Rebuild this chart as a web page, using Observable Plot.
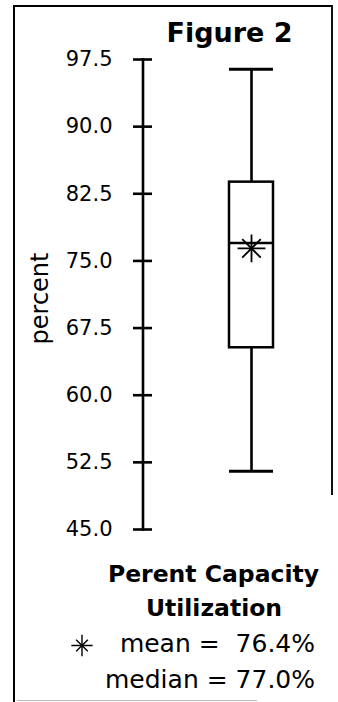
<!DOCTYPE html>
<html>
<head>
<meta charset="utf-8">
<script src="https://cdn.jsdelivr.net/npm/d3@7"></script>
<script src="https://cdn.jsdelivr.net/npm/@observablehq/plot@0.6"></script>
<style>
  html, body { margin: 0; padding: 0; background: #fff; }
  #wrap { position: relative; width: 338px; height: 702px; overflow: hidden; background: #fff; font-family: "DejaVu Sans", sans-serif; color: #000; }
  #wrap svg.plot { position: absolute; left: 0; top: 0; }
  .abs { position: absolute; white-space: pre; }
  .bframe { position: absolute; left: 13px; top: 5px; width: 318px; height: 720px; border-left: 2.5px solid #000; border-top: 2px solid #000; }
  .rframe { position: absolute; left: 331px; top: 5px; width: 1.5px; height: 490px; background: #111; }
  .bline { position: absolute; left: 17px; top: 700px; width: 240px; height: 1px; background: #bbb; }
</style>
</head>
<body>
<div id="wrap">
  <div class="bframe"></div>
  <div class="rframe"></div>
  <div class="bline"></div>
</div>
<script>
// ---- data ----
const categories = ["Perent Capacity Utilization"];
const lowerWhisker = [51.5];
const lowerQuartile = [65.3];
const medians = [77.0];
const upperQuartile = [83.8];
const upperWhisker = [96.4];
const means = [76.4];
const yTicks = [45.0, 52.5, 60.0, 67.5, 75.0, 82.5, 90.0, 97.5];
const titleText = "Figure 2";
const yLabel = "percent";
const legendTitle = ["Perent Capacity", "Utilization"];
const meanLabel = "mean =  " + means[0].toFixed(1) + "%";
const medianLabel = "median = " + medians[0].toFixed(1) + "%";

const rows = categories.map((c, i) => ({
  cat: c, lo: lowerWhisker[i], q1: lowerQuartile[i], med: medians[i],
  q3: upperQuartile[i], hi: upperWhisker[i], mean: means[i]
}));

const wrap = document.getElementById("wrap");

const chart = Plot.plot({
  width: 338,
  height: 560,
  marginTop: 59,
  marginBottom: 31,
  marginLeft: 142.5,
  marginRight: 0,
  style: { background: "transparent", color: "#000", fontFamily: "DejaVu Sans", fontSize: "21px", overflow: "visible" },
  x: { type: "band", domain: categories, range: [228.5, 272.5], padding: 0, axis: null },
  y: { domain: [45, 97.5] },
  marks: [
    Plot.frame({ anchor: "left", strokeWidth: 2.6 }),
    Plot.axisY(yTicks, { anchor: "left", tickSize: 19, dx: 9.5, fill: "none", strokeWidth: 2.6, label: null }),
    Plot.axisY(yTicks, { anchor: "left", tickSize: 0, tickPadding: 30.5, tickFormat: d => d.toFixed(1), fontSize: 21, label: null }),
    Plot.ruleX(rows, { x: "cat", y1: "q3", y2: "hi", strokeWidth: 2.6 }),
    Plot.ruleX(rows, { x: "cat", y1: "lo", y2: "q1", strokeWidth: 2.6 }),
    Plot.barY(rows, { x: "cat", y1: "q1", y2: "q3", fill: "white", stroke: "black", strokeWidth: 2.5 }),
    Plot.tickY(rows, { x: "cat", y: "med", strokeWidth: 2.6 }),
    Plot.tickY(rows, { x: "cat", y: "hi", strokeWidth: 3 }),
    Plot.tickY(rows, { x: "cat", y: "lo", strokeWidth: 3 }),
    Plot.dot(rows, { x: "cat", y: "mean", symbol: "plus", r: 9, stroke: "black", strokeWidth: 1.8 }),
    Plot.dot(rows, { x: "cat", y: "mean", symbol: "times", r: 8.5, stroke: "black", strokeWidth: 1.8 }),
    Plot.text([yLabel], { text: d => d, frameAnchor: "left", textAnchor: "middle", lineAnchor: "middle", rotate: -90, dx: -103, dy: 4, fontSize: 24 })
  ]
});
chart.classList.add("plot");
wrap.appendChild(chart);

function addText(txt, { left, width, top, size, bold = false, align = "left" }) {
  const d = document.createElement("div");
  d.className = "abs";
  d.textContent = txt;
  d.style.left = left + "px";
  if (width) d.style.width = width + "px";
  d.style.top = top + "px";
  d.style.fontSize = size + "px";
  d.style.lineHeight = size + "px";
  d.style.fontWeight = bold ? "bold" : "normal";
  d.style.textAlign = align;
  wrap.appendChild(d);
  return d;
}
// baseline offset for DejaVu Sans with line-height = font-size: 0.846 * size
addText(titleText, { left: 129.5, width: 200, top: 42 - 0.846 * 27, size: 27, bold: true, align: "center" });
addText(legendTitle[0], { left: 63.5, width: 300, top: 583 - 0.846 * 23.5, size: 23.5, bold: true, align: "center" });
addText(legendTitle[1], { left: 64, width: 300, top: 617 - 0.846 * 23.5, size: 23.5, bold: true, align: "center" });
addText(meanLabel, { left: 15, width: 300, top: 652 - 0.846 * 25, size: 25, align: "right" });
addText(medianLabel, { left: 15, width: 300, top: 688 - 0.846 * 25, size: 25, align: "right" });

// legend symbol for the mean (same plus + times star as the chart)
const ns = "http://www.w3.org/2000/svg";
const ls = document.createElementNS(ns, "svg");
ls.setAttribute("width", 30); ls.setAttribute("height", 30);
ls.style.position = "absolute"; ls.style.left = "67px"; ls.style.top = "630px";
const g = document.createElementNS(ns, "g");
g.setAttribute("transform", "translate(15,15.5)");
g.setAttribute("stroke", "#000"); g.setAttribute("stroke-width", "1.4"); g.setAttribute("fill", "none");
[[d3.symbolPlus, 150], [d3.symbolTimes, 90]].forEach(([t, s]) => {
  const p = document.createElementNS(ns, "path");
  p.setAttribute("d", d3.symbol(t, s)());
  g.appendChild(p);
});
ls.appendChild(g);
wrap.appendChild(ls);
</script>
</body>
</html>
